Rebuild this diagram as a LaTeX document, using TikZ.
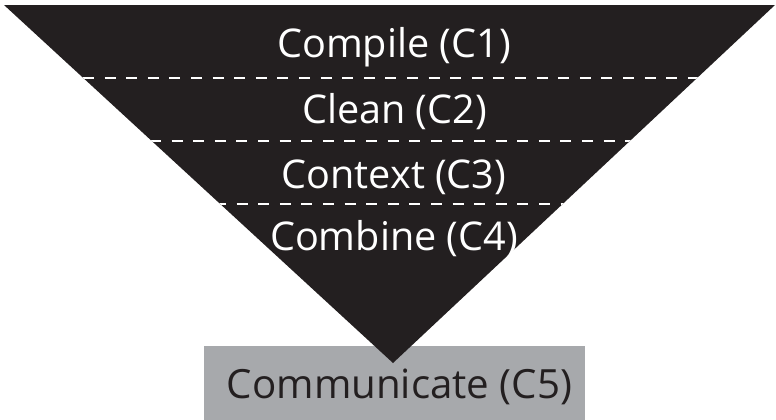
\documentclass[tikz,border=0pt]{standalone}
\usepackage{fontspec}
\setmainfont{Open Sans}
\definecolor{funnelblack}{HTML}{231F20}
\definecolor{boxgray}{HTML}{A7A9AC}

\begin{document}
\begin{tikzpicture}[x=0.75pt,y=-0.75pt,
  stage/.style={anchor=base,text=white,inner sep=0pt,font=\fontsize{29.7}{34}\selectfont},
  cut/.style={white,line width=2.2pt,dash pattern=on 8.2pt off 8pt}]
  \useasboundingbox (0,0) rectangle (776,419);
  % bottom box
  \node (C5box) [fill=boxgray,minimum width=381*0.75pt,minimum height=74*0.75pt,inner sep=0pt,anchor=north west] at (204,346) {};
  \node (C5) [stage,text=funnelblack,font=\fontsize{30.2}{34}\selectfont] at (399.5,398) {Communicate (C5)};
  % funnel
  \coordinate (TL) at (4,5);
  \coordinate (TR) at (775,5);
  \coordinate (AP) at (393,363);
  \fill[funnelblack] (TL) -- (TR) -- (AP) -- cycle;
  \begin{scope}
    \clip (TL) -- (TR) -- (AP) -- cycle;
    \draw[cut] (83,78) -- (700,78);
    \draw[cut] (150,141) -- (640,141);
    \draw[cut] (215,204) -- (575,204);
  \end{scope}
  \node (C1) [stage] at (394,57) {Compile (C1)};
  \node (C2) [stage] at (394.5,123) {Clean (C2)};
  \node (C3) [stage] at (394,188) {Context (C3)};
  \node (C4) [stage] at (394,250) {Combine (C4)};
\end{tikzpicture}
\end{document}
